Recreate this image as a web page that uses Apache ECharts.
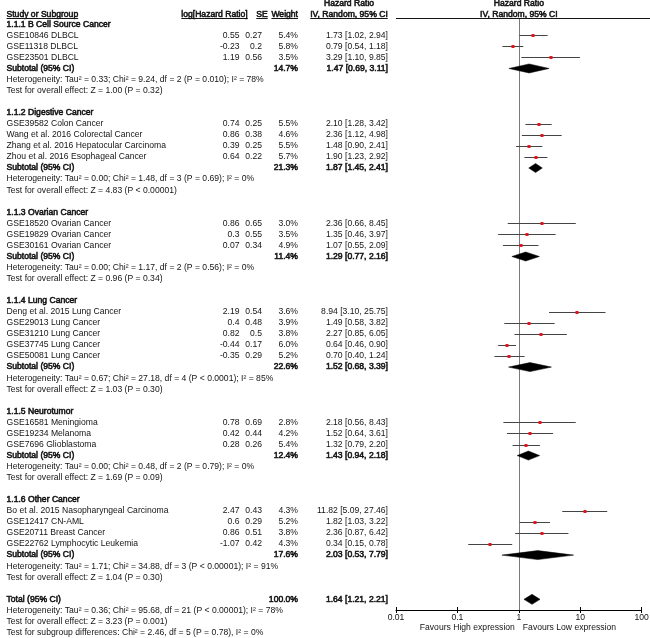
<!DOCTYPE html>
<html><head><meta charset="utf-8">
<script src="https://cdn.jsdelivr.net/npm/echarts@6/dist/echarts.min.js"></script>
<style>html,body{margin:0;padding:0;background:#fff}#c{width:650px;height:638px}</style>
</head><body><div id="c"></div>
<script>
// ---------------- DATA ----------------
const groupNames = ['1.1.1 B Cell Source Cancer', '1.1.2 Digestive Cancer', '1.1.3 Ovarian Cancer', '1.1.4 Lung Cancer', '1.1.5 Neurotumor', '1.1.6 Other Cancer'];
const studyGroup = [0,0,0, 1,1,1,1, 2,2,2, 3,3,3,3,3, 4,4,4, 5,5,5,5];
const studyNames = [
  'GSE10846 DLBCL', 'GSE11318 DLBCL', 'GSE23501 DLBCL',
  'GSE39582 Colon Cancer', 'Wang et al. 2016 Colorectal Cancer', 'Zhang et al. 2016 Hepatocular Carcinoma', 'Zhou et al. 2016 Esophageal Cancer',
  'GSE18520 Ovarian Cancer', 'GSE19829 Ovarian Cancer', 'GSE30161 Ovarian Cancer',
  'Deng et al. 2015 Lung Cancer', 'GSE29013 Lung Cancer', 'GSE31210 Lung Cancer', 'GSE37745 Lung Cancer', 'GSE50081 Lung Cancer',
  'GSE16581 Meningioma', 'GSE19234 Melanoma', 'GSE7696 Glioblastoma',
  'Bo et al. 2015 Nasopharyngeal Carcinoma', 'GSE12417 CN-AML', 'GSE20711 Breast Cancer', 'GSE22762 Lymphocytic Leukemia'
];
const studyLogHR = [0.55,-0.23,1.19, 0.74,0.86,0.39,0.64, 0.86,0.3,0.07, 2.19,0.4,0.82,-0.44,-0.35, 0.78,0.42,0.28, 2.47,0.6,0.86,-1.07];
const studySE = [0.27,0.2,0.56, 0.25,0.38,0.25,0.22, 0.65,0.55,0.34, 0.54,0.48,0.5,0.17,0.29, 0.69,0.44,0.26, 0.43,0.29,0.51,0.42];
const studyWeight = [5.4,5.8,3.5, 5.5,4.6,5.5,5.7, 3.0,3.5,4.9, 3.6,3.9,3.8,6.0,5.2, 2.8,4.2,5.4, 4.3,5.2,3.8,4.3];
const studyHR = [1.73,0.79,3.29, 2.10,2.36,1.48,1.90, 2.36,1.35,1.07, 8.94,1.49,2.27,0.64,0.70, 2.18,1.52,1.32, 11.82,1.82,2.36,0.34];
const studyLo = [1.02,0.54,1.10, 1.28,1.12,0.90,1.23, 0.66,0.46,0.55, 3.10,0.58,0.85,0.46,0.40, 0.56,0.64,0.79, 5.09,1.03,0.87,0.15];
const studyHi = [2.94,1.18,9.85, 3.42,4.98,2.41,2.92, 8.45,3.97,2.09, 25.75,3.82,6.05,0.90,1.24, 8.43,3.61,2.20, 27.46,3.22,6.42,0.78];
const subWeight = [14.7,21.3,11.4,22.6,12.4,17.6];
const subHR = [1.47,1.87,1.29,1.52,1.43,2.03];
const subLo = [0.69,1.45,0.77,0.68,0.94,0.53];
const subHi = [3.11,2.41,2.16,3.39,2.18,7.79];
const subHeterogeneity = [
  'Heterogeneity: Tau² = 0.33; Chi² = 9.24, df = 2 (P = 0.010); I² = 78%',
  'Heterogeneity: Tau² = 0.00; Chi² = 1.48, df = 3 (P = 0.69); I² = 0%',
  'Heterogeneity: Tau² = 0.00; Chi² = 1.17, df = 2 (P = 0.56); I² = 0%',
  'Heterogeneity: Tau² = 0.67; Chi² = 27.18, df = 4 (P < 0.0001); I² = 85%',
  'Heterogeneity: Tau² = 0.00; Chi² = 0.48, df = 2 (P = 0.79); I² = 0%',
  'Heterogeneity: Tau² = 1.71; Chi² = 34.88, df = 3 (P < 0.00001); I² = 91%'
];
const subOverallTest = [
  'Test for overall effect: Z = 1.00 (P = 0.32)',
  'Test for overall effect: Z = 4.83 (P < 0.00001)',
  'Test for overall effect: Z = 0.96 (P = 0.34)',
  'Test for overall effect: Z = 1.03 (P = 0.30)',
  'Test for overall effect: Z = 1.69 (P = 0.09)',
  'Test for overall effect: Z = 1.04 (P = 0.30)'
];
const totalWeight = [100.0];
const totalHR = [1.64];
const totalLo = [1.21];
const totalHi = [2.21];
const totalNotes = [
  'Heterogeneity: Tau² = 0.36; Chi² = 95.68, df = 21 (P < 0.00001); I² = 78%',
  'Test for overall effect: Z = 3.23 (P = 0.001)',
  'Test for subgroup differences: Chi² = 2.46, df = 5 (P = 0.78), I² = 0%'
];
const tickValues = [0.01, 0.1, 1, 10, 100];
const tickLabels = ['0.01', '0.1', '1', '10', '100'];
const favourLabels = ['Favours High expression', 'Favours Low expression'];

// ---------------- LAYOUT ----------------
const ROW0_Y = 35.3, ROW_H = 11.06;
const yToRow = y => (y - ROW0_Y) / ROW_H;
const COL = { name: 6.5, logHR: 239.5, se: 262, weight: 298, ci: 388, hdrLog: 214.5, hdrCI: 349 };
const FONT = '"Liberation Sans", Arial, Helvetica, sans-serif';
const FS = 8.6;
const font = () => FS + 'px ' + FONT;
const mctx = document.createElement('canvas').getContext('2d');
const tw = (t) => { mctx.font = font(); return mctx.measureText(t).width; };
const fmtCI = (h, l, u) => h.toFixed(2) + ' [' + l.toFixed(2) + ', ' + u.toFixed(2) + ']';

const texts = [];
const T = (x, row, text, align, bold, ul) => texts.push({ x, row, text, align, bold: !!bold, ul: !!ul });
const rH1 = yToRow(3.8), rH2 = yToRow(14.3);
T(COL.hdrCI, rH1, 'Hazard Ratio', 'center', true);
T(COL.hdrCI, rH2, 'IV, Random, 95% CI', 'center', true, true);
T(COL.name, rH2, 'Study or Subgroup', 'left', true, true);
T(COL.hdrLog, rH2, 'log[Hazard Ratio]', 'center', true, true);
T(COL.se, rH2, 'SE', 'center', true, true);
T(COL.weight, rH2, 'Weight', 'right', true, true);

const studyRow = [], subRow = [];
let row = -1;
groupNames.forEach((g, gi) => {
  T(COL.name, row, g, 'left', true); row++;
  studyNames.forEach((n, i) => {
    if (studyGroup[i] !== gi) return;
    studyRow[i] = row;
    T(COL.name, row, n, 'left');
    T(COL.logHR, row, String(studyLogHR[i]), 'right');
    T(COL.se, row, String(studySE[i]), 'right');
    T(COL.weight, row, studyWeight[i].toFixed(1) + '%', 'right');
    T(COL.ci, row, fmtCI(studyHR[i], studyLo[i], studyHi[i]), 'right');
    row++;
  });
  subRow[gi] = row;
  T(COL.name, row, 'Subtotal (95% CI)', 'left', true);
  T(COL.weight, row, subWeight[gi].toFixed(1) + '%', 'right', true);
  T(COL.ci, row, fmtCI(subHR[gi], subLo[gi], subHi[gi]), 'right', true);
  row++;
  T(COL.name, row, subHeterogeneity[gi], 'left'); row++;
  T(COL.name, row, subOverallTest[gi], 'left'); row++;
  row++; // blank
});
const totalRow = row;
T(COL.name, row, 'Total (95% CI)', 'left', true);
T(COL.weight, row, totalWeight[0].toFixed(1) + '%', 'right', true);
T(COL.ci, row, fmtCI(totalHR[0], totalLo[0], totalHi[0]), 'right', true);
row++;
totalNotes.forEach(n => { T(COL.name, row, n, 'left'); row++; });

// plot-anchored texts (relative to HR = 1)
const plotTexts = [
  { v: 1, row: rH1, dx: 0, text: 'Hazard Ratio', align: 'center', bold: true, ul: false },
  { v: 1, row: rH2, dx: 0, text: 'IV, Random, 95% CI', align: 'center', bold: true, ul: true },
  { v: 1, row: yToRow(628), dx: -4, text: favourLabels[0], align: 'right', bold: false, ul: false },
  { v: 1, row: yToRow(628), dx: 4, text: favourLabels[1], align: 'left', bold: false, ul: false }
];

const PLOT_TOP = 18, PLOT_BOTTOM = 610;
const TXT = '#141414';

function textEl(x, y, it) {
  const st = { text: it.text, font: font(), fill: TXT, align: it.align, verticalAlign: 'middle' };
  if (it.bold) { st.stroke = TXT; st.lineWidth = 0.55; }
  return [{ type: 'text', x: x, y: y, style: st }];
}

const chart = echarts.init(document.getElementById('c'), null, { renderer: 'canvas' });
chart.setOption({
  animation: false,
  backgroundColor: '#fff',
  grid: [
    { left: 0, top: 0, width: 650, height: 638, outerBoundsMode: 'none', containLabel: false },
    { left: 396, top: PLOT_TOP, width: 245.7, height: PLOT_BOTTOM - PLOT_TOP, outerBoundsMode: 'none', containLabel: false }
  ],
  xAxis: [
    { type: 'value', gridIndex: 0, min: 0, max: 650, show: false },
    {
      type: 'log', logBase: 10, gridIndex: 1, min: tickValues[0], max: tickValues[tickValues.length - 1], position: 'bottom',
      axisLine: { show: true, onZero: false, lineStyle: { color: '#000', width: 1 } },
      axisTick: { show: true, length: 3, lineStyle: { color: '#000', width: 1 } },
      axisLabel: {
        show: true, margin: 3, fontSize: FS, fontFamily: FONT, color: '#111', showMinLabel: true, showMaxLabel: true,
        formatter: v => { const i = tickValues.findIndex(t => Math.abs(Math.log10(t) - Math.log10(v)) < 1e-6); return i >= 0 ? tickLabels[i] : ''; }
      },
      splitLine: { show: false }
    },
    {
      type: 'log', logBase: 10, gridIndex: 1, min: tickValues[0], max: tickValues[tickValues.length - 1], position: 'bottom',
      axisLine: { show: false, onZero: false }, axisTick: { show: true, inside: true, length: 3, lineStyle: { color: '#000', width: 1 } },
      axisLabel: { show: false }, splitLine: { show: false }
    }
  ],
  yAxis: [
    { type: 'value', gridIndex: 0, inverse: true, min: yToRow(0), max: yToRow(638), show: false },
    { type: 'value', gridIndex: 1, inverse: true, min: yToRow(PLOT_TOP), max: yToRow(PLOT_BOTTOM), show: false }
  ],
  series: [
    {
      type: 'custom', name: 'table', xAxisIndex: 0, yAxisIndex: 0, silent: true,
      data: texts.map(t => [t.x, t.row]),
      renderItem: (params, api) => {
        const it = texts[params.dataIndex];
        const p = api.coord([api.value(0), api.value(1)]);
        const ch = textEl(p[0], p[1], it);
        if (it.ul) {
          const w = tw(it.text);
          const x1 = it.align === 'left' ? p[0] : it.align === 'right' ? p[0] - w : p[0] - w / 2;
          const yy = Math.round(p[1] + 3.6) + 0.5;
          ch.push({ type: 'line', shape: { x1: x1, y1: yy, x2: x1 + w, y2: yy }, style: { stroke: TXT, lineWidth: 1 } });
        }
        return { type: 'group', children: ch };
      }
    },
    {
      type: 'custom', name: 'ref', xAxisIndex: 1, yAxisIndex: 1, silent: true,
      data: [[1, 0]],
      renderItem: (params, api) => {
        const cs = params.coordSys;
        const p = api.coord([api.value(0), api.value(1)]);
        const x = Math.round(p[0]) + 0.5;
        return { type: 'line', shape: { x1: x, y1: cs.y, x2: x, y2: cs.y + cs.height }, style: { stroke: '#7a7a7a', lineWidth: 1 } };
      }
    },
    {
      type: 'custom', name: 'studies', xAxisIndex: 1, yAxisIndex: 1, silent: true,
      data: studyHR.map((h, i) => [h, studyLo[i], studyHi[i], studyRow[i]]),
      encode: { x: [0, 1, 2], y: 3 },
      renderItem: (params, api) => {
        const r = api.value(3);
        const a = api.coord([api.value(1), r]);
        const b = api.coord([api.value(2), r]);
        const c = api.coord([api.value(0), r]);
        const yy = Math.round(a[1]) + 0.5;
        return { type: 'group', children: [
          { type: 'line', shape: { x1: a[0], y1: yy, x2: b[0], y2: yy }, style: { stroke: '#444', lineWidth: 1 } },
          { type: 'rect', shape: { x: Math.round(c[0]) - 1.5, y: yy - 1.5, width: 3, height: 3 }, style: { fill: '#e3141b' } }
        ] };
      }
    },
    {
      type: 'custom', name: 'pooled', xAxisIndex: 1, yAxisIndex: 1, silent: true,
      data: subHR.map((h, i) => [h, subLo[i], subHi[i], subRow[i]]).concat([[totalHR[0], totalLo[0], totalHi[0], totalRow]]),
      encode: { x: [0, 1, 2], y: 3 },
      renderItem: (params, api) => {
        const r = api.value(3);
        const hh = params.dataIndex === subHR.length ? 5 : 4.5;
        const a = api.coord([api.value(1), r]);
        const b = api.coord([api.value(2), r]);
        const c = api.coord([api.value(0), r]);
        return { type: 'polygon', shape: { points: [[a[0], c[1]], [c[0], c[1] - hh], [b[0], c[1]], [c[0], c[1] + hh]] }, style: { fill: '#000', stroke: '#000', lineWidth: 0.5 } };
      }
    },
    {
      type: 'custom', name: 'plotText', xAxisIndex: 1, yAxisIndex: 1, silent: true,
      data: plotTexts.map(t => [t.v, t.row]),
      renderItem: (params, api) => {
        const it = plotTexts[params.dataIndex];
        const p = api.coord([api.value(0), api.value(1)]);
        const ch = textEl(p[0] + it.dx, p[1], it);
        if (it.ul) {
          const cs = params.coordSys;
          const yy = Math.round(p[1] + 3.6) + 0.5;
          ch.push({ type: 'line', shape: { x1: cs.x, y1: yy, x2: 650, y2: yy }, style: { stroke: TXT, lineWidth: 1 } });
        }
        return { type: 'group', children: ch };
      }
    }
  ]
});
</script>
</body></html>
